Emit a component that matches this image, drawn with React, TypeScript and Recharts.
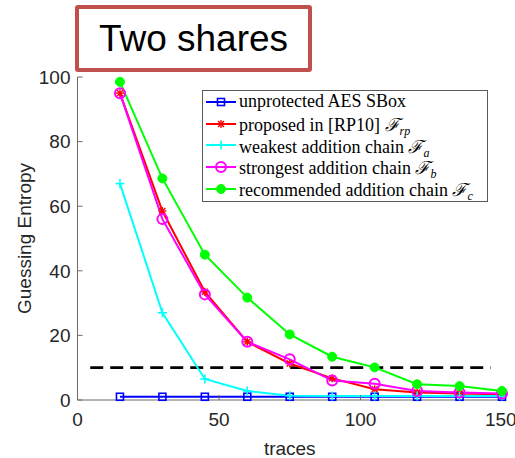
import React from 'react'
import { LineChart, Line, XAxis, YAxis, Legend, ReferenceLine, Label } from 'recharts'

// x positions (number of traces)
const traces = [15, 30, 45, 60, 75, 90, 105, 120, 135, 150]

// guessing entropy per configuration
const unprotected = [1, 1, 1, 1, 1, 1, 1, 1, 1, 1]
const proposed = [95, 58.5, 33.5, 18, 11.3, 6.7, 3.3, 2.3, 2, 1.8]
const weakest = [67, 27, 6.5, 2.8, 1.3, 1.2, 1.2, 1.2, 1.2, 1.2]
const strongest = [95, 56, 32.7, 18, 12.6, 6, 5, 2.8, 2.3, 2]
const recommended = [98.5, 68.6, 45, 31.7, 20.3, 13.4, 10.1, 4.9, 4.3, 2.8]

const threshold = 10
const thresholdSpan = [4.5, 146]

const xTicks = [0, 50, 100, 150]
const yTicks = [0, 20, 40, 60, 80, 100]

const series = [
  { key: 'unprotected', label: 'unprotected AES SBox', sub: '', color: '#0000ff', marker: 'square', values: unprotected },
  { key: 'proposed', label: 'proposed in [RP10] ', sub: 'rp', color: '#ff0000', marker: 'star', values: proposed },
  { key: 'weakest', label: 'weakest addition chain ', sub: 'a', color: '#00ffff', marker: 'plus', values: weakest },
  { key: 'strongest', label: 'strongest addition chain ', sub: 'b', color: '#ff00ff', marker: 'circle', values: strongest },
  { key: 'recommended', label: 'recommended addition chain ', sub: 'c', color: '#00ff00', marker: 'dot', values: recommended },
]

const data = traces.map((x, i) => {
  const row: any = { x }
  series.forEach(s => { row[s.key] = s.values[i] })
  return row
})

const axisColor = '#6b6b6b'
const textColor = '#262626'
const sansFont = "'Liberation Sans', Arial, sans-serif"
const serifFont = "'Liberation Serif', 'Times New Roman', serif"

function Marker({ kind, color, cx, cy }: { kind: string; color: string; cx: number; cy: number }) {
  if (cx == null || cy == null) return null
  switch (kind) {
    case 'square':
      return <rect x={cx - 3.5} y={cy - 3.5} width={7} height={7} fill="none" stroke={color} strokeWidth={1.6} />
    case 'star':
      return (
        <g stroke={color} strokeWidth={1.4}>
          <line x1={cx - 3} y1={cy - 3} x2={cx + 3} y2={cy + 3} />
          <line x1={cx - 3} y1={cy + 3} x2={cx + 3} y2={cy - 3} />
          <line x1={cx - 4} y1={cy} x2={cx + 4} y2={cy} />
          <line x1={cx} y1={cy - 4} x2={cx} y2={cy + 4} />
        </g>
      )
    case 'plus':
      return (
        <g stroke={color} strokeWidth={1.6}>
          <line x1={cx - 4.5} y1={cy} x2={cx + 4.5} y2={cy} />
          <line x1={cx} y1={cy - 4.5} x2={cx} y2={cy + 4.5} />
        </g>
      )
    case 'circle':
      return <circle cx={cx} cy={cy} r={5} fill="none" stroke={color} strokeWidth={2} />
    default:
      return <circle cx={cx} cy={cy} r={4.5} fill={color} stroke={color} strokeWidth={1} />
  }
}

function makeDot(kind: string, color: string) {
  return (props: any) => (
    <g key={`${kind}-${props.index}`}>
      <Marker kind={kind} color={color} cx={props.cx} cy={props.cy} />
    </g>
  )
}

function LegendBox() {
  return (
    <div
      style={{
        width: 286,
        boxSizing: 'border-box',
        border: '1px solid #5a5a5a',
        background: '#fff',
        padding: '0 0 1px 3px',
        fontFamily: serifFont,
        fontSize: 18,
        color: '#000',
      }}
    >
      {series.map(s => (
        <div key={s.key} style={{ display: 'flex', alignItems: 'center', height: 21.8, whiteSpace: 'nowrap' }}>
          <svg width={30} height={20} style={{ flex: 'none' }}>
            <line x1={0} y1={10} x2={30} y2={10} stroke={s.color} strokeWidth={2} />
            <Marker kind={s.marker} color={s.color} cx={15} cy={10} />
          </svg>
          <span style={{ marginLeft: 3 }}>
            {s.label}
            {s.sub && (
              <>
                <span style={{ fontStyle: 'italic' }}>ℱ</span>
                <span style={{ fontStyle: 'italic', fontSize: 12, position: 'relative', top: 4 }}>{s.sub}</span>
              </>
            )}
          </span>
        </div>
      ))}
    </div>
  )
}

function YTitle(props: any) {
  const vb = props.viewBox
  const cx = vb.x + 24
  const cy = vb.y + vb.height / 2
  return (
    <text
      x={cx}
      y={cy}
      transform={`rotate(-90, ${cx}, ${cy})`}
      textAnchor="middle"
      dominantBaseline="central"
      fill={textColor}
      fontSize={19}
      fontFamily={sansFont}
    >
      Guessing Entropy
    </text>
  )
}

function XTitle(props: any) {
  const vb = props.viewBox
  return (
    <text
      x={vb.x + vb.width / 2}
      y={vb.y + vb.height - 3}
      textAnchor="middle"
      fill={textColor}
      fontSize={19}
      fontFamily={sansFont}
    >
      traces
    </text>
  )
}

export default function App() {
  return (
    <div style={{ position: 'absolute', left: 0, top: 0, width: 515, height: 458, background: '#fff' }}>
      <LineChart width={515} height={458} data={data} margin={{ top: 77, right: 13, bottom: 0, left: 0 }}>
        <XAxis
          type="number"
          dataKey="x"
          domain={[0, 150]}
          ticks={xTicks}
          height={58}
          tickSize={-5}
          tickMargin={18}
          stroke={axisColor}
          tick={{ fill: textColor, fontSize: 19, fontFamily: sansFont }}
        >
          <Label content={<XTitle />} />
        </XAxis>
        <YAxis
          type="number"
          domain={[0, 100]}
          ticks={yTicks}
          width={77.5}
          tickSize={-5}
          tickMargin={12}
          stroke={axisColor}
          tick={{ fill: textColor, fontSize: 19, fontFamily: sansFont }}
        >
          <Label content={<YTitle />} />
        </YAxis>
        <ReferenceLine
          segment={[{ x: thresholdSpan[0], y: threshold }, { x: thresholdSpan[1], y: threshold }]}
          stroke="#000"
          strokeWidth={2.8}
          strokeDasharray="13 7"
        />
        {series.map(s => (
          <Line
            key={s.key}
            dataKey={s.key}
            name={s.label}
            stroke={s.color}
            strokeWidth={2}
            dot={makeDot(s.marker, s.color)}
            activeDot={false}
            isAnimationActive={false}
          />
        ))}
        <Legend
          layout="vertical"
          align="center"
          verticalAlign="middle"
          wrapperStyle={{ left: 202, top: 90, width: 286 }}
          content={() => <LegendBox />}
        />
      </LineChart>
      <div
        style={{
          position: 'absolute',
          left: 75,
          top: 5,
          width: 237,
          height: 67,
          boxSizing: 'border-box',
          border: '4px solid #c0504d',
          borderRadius: 3,
          background: '#fff',
          display: 'flex',
          alignItems: 'center',
          justifyContent: 'center',
          fontFamily: sansFont,
          fontSize: 37,
          color: '#000',
        }}
      >
        Two shares
      </div>
    </div>
  )
}
